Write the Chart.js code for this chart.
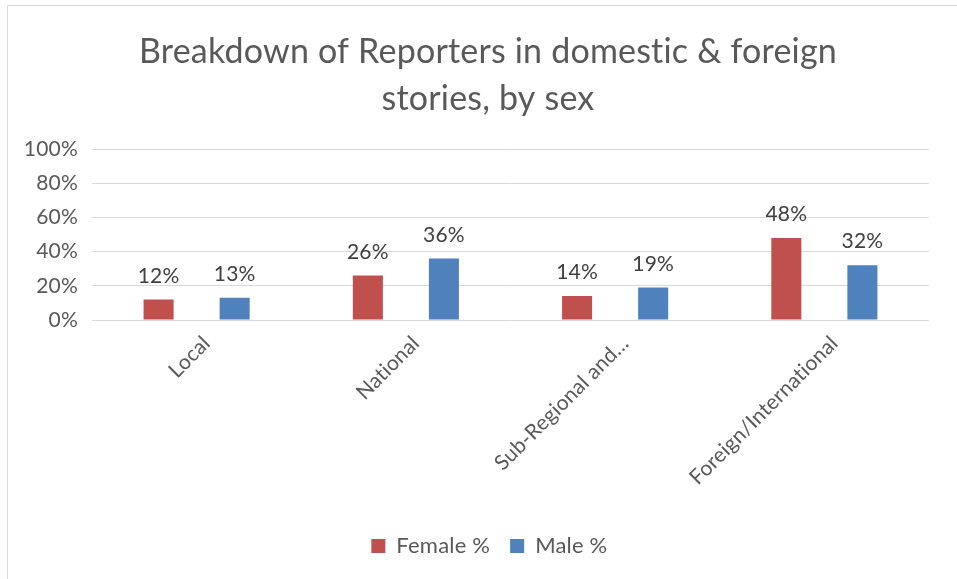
<!DOCTYPE html>
<html lang="en">
<head>
    <meta charset="UTF-8">
    <title>Breakdown of Reporters in domestic & foreign stories, by sex</title>
    <script src="https://cdn.jsdelivr.net/npm/chart.js"></script>
    <style>
        body {
            margin: 0;
            background: #fff;
            overflow: hidden;
        }
        .chart-box {
            position: absolute;
            left: 7px;
            top: 5px;
            width: 960px;
            height: 600px;
            border: 1px solid #d9d9d9;
            background: #fff;
        }
        .chart-box canvas {
            display: block;
        }
    </style>
</head>
<body>
    <div class="chart-box">
        <canvas id="reportersChart" width="949" height="573"></canvas>
    </div>

    <script>
        const categories = ['Local', 'National', 'Sub-Regional and Regional', 'Foreign/International'];
        const femaleValues = [12, 26, 14, 48];
        const maleValues = [13, 36, 19, 32];
        const yTicks = [0, 20, 40, 60, 80, 100];

        const textGrey = '#595959';
        const fontName = 'Lato, "Open Sans", sans-serif';

        // a touch of letter spacing keeps the font from joining letters
        const plainText = {
            id: 'plainText',
            beforeDraw(chart) {
                chart.ctx.letterSpacing = '0.2px';
            }
        };

        // prints the value above each bar, like the office data labels
        const barLabels = {
            id: 'barLabels',
            afterDatasetsDraw(chart) {
                const ctx = chart.ctx;
                ctx.save();
                ctx.font = '21px ' + fontName;
                ctx.fillStyle = '#404040';
                ctx.textAlign = 'center';
                ctx.textBaseline = 'alphabetic';
                chart.data.datasets.forEach((ds, i) => {
                    chart.getDatasetMeta(i).data.forEach((bar, j) => {
                        ctx.fillText(ds.data[j] + '%', bar.x, bar.y - 17);
                    });
                });
                ctx.restore();
            }
        };

        new Chart(document.getElementById('reportersChart'), {
            type: 'bar',
            data: {
                labels: categories,
                datasets: [{
                    label: 'Female %',
                    data: femaleValues,
                    backgroundColor: '#C0504D',
                    categoryPercentage: 0.727,
                    barPercentage: 0.395
                }, {
                    label: 'Male %',
                    data: maleValues,
                    backgroundColor: '#4F81BD',
                    categoryPercentage: 0.727,
                    barPercentage: 0.395
                }]
            },
            options: {
                responsive: false,
                animation: false,
                layout: {
                    padding: { left: 11, right: 0, top: 0, bottom: 12 }
                },
                plugins: {
                    title: {
                        display: true,
                        text: ['Breakdown of Reporters in domestic & foreign', 'stories, by sex'],
                        color: textGrey,
                        font: { family: fontName, size: 34, weight: 'normal', lineHeight: 1.4 },
                        padding: { top: 22, bottom: 26 }
                    },
                    legend: {
                        position: 'bottom',
                        labels: {
                            color: textGrey,
                            font: { family: fontName, size: 22 },
                            boxWidth: 14,
                            boxHeight: 14,
                            padding: 20
                        }
                    },
                    tooltip: { enabled: false }
                },
                scales: {
                    x: {
                        grid: { display: false },
                        border: { display: false },
                        ticks: {
                            color: textGrey,
                            font: { family: fontName, size: 21 },
                            minRotation: 45,
                            maxRotation: 45,
                            labelOffset: 10,
                            autoSkip: false,
                            callback(value) {
                                const name = this.getLabelForValue(value);
                                return name.length > 22 ? name.slice(0, 16) + '…' : name;
                            }
                        },
                        afterFit(scale) {
                            scale.height = 195;
                        }
                    },
                    y: {
                        min: 0,
                        max: 100,
                        grid: { color: '#d9d9d9', lineWidth: 1, drawTicks: false },
                        border: { display: false },
                        afterBuildTicks(scale) {
                            scale.ticks = yTicks.map(v => ({ value: v }));
                        },
                        ticks: {
                            color: textGrey,
                            font: { family: fontName, size: 21 },
                            padding: 14,
                            callback: v => v + '%'
                        },
                        afterFit(scale) {
                            scale.width = 73;
                        }
                    },
                    // empty right-hand strip so the plot stops short of the edge
                    gap: {
                        position: 'right',
                        grid: { display: false },
                        border: { display: false },
                        ticks: { display: false },
                        afterFit(scale) {
                            scale.width = 28;
                        }
                    }
                }
            },
            plugins: [plainText, barLabels]
        });
    </script>
</body>
</html>
